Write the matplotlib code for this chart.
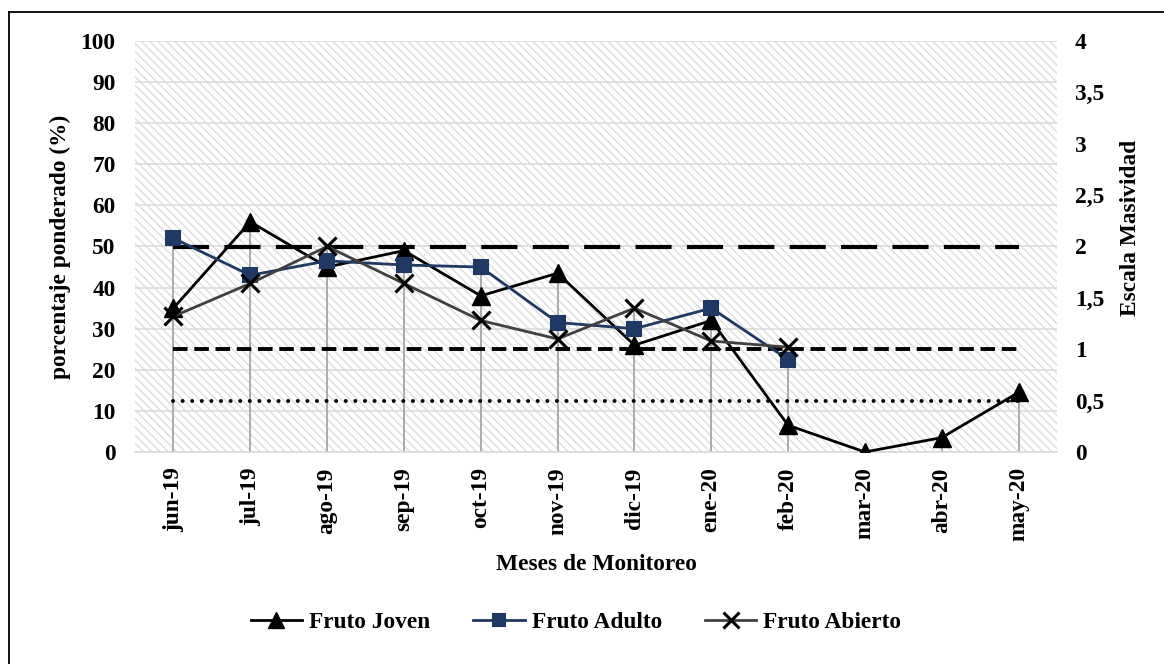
import numpy as np
import matplotlib
matplotlib.use("Agg")
import matplotlib.pyplot as plt
from matplotlib.patches import Rectangle
from matplotlib.lines import Line2D
from matplotlib.ticker import FuncFormatter, MultipleLocator
from matplotlib.transforms import blended_transform_factory

plt.rcParams['font.family'] = ['Liberation Serif', 'DejaVu Serif']
plt.rcParams['font.weight'] = 'bold'
plt.rcParams['lines.scale_dashes'] = False
plt.rcParams['hatch.linewidth'] = 1.0

# Months monitored
meses = ["jun-19", "jul-19", "ago-19", "sep-19", "oct-19", "nov-19",
         "dic-19", "ene-20", "feb-20", "mar-20", "abr-20", "may-20"]

# Weighted percentage per fruit stage (%)
fruto_joven = [35, 56, 45, 49, 38, 43.5, 26, 32, 6.5, 0, 3.5, 14.5]
fruto_adulto = [52, 43, 46.5, 45.5, 45, 31.5, 30, 35, 22.5]
fruto_abierto = [33, 41, 50, 41, 32, 27.5, 35, 27, 25.5]

# Reference levels on the massiveness scale
nivel_alto = 2
nivel_medio = 1
nivel_bajo = 0.5

FS = 16.8
fig = plt.figure(figsize=(11.64, 6.64), dpi=100)
ax = fig.add_axes([135 / 1164, 1 - 452 / 664, 922 / 1164, 411 / 664])
ax2 = ax.twinx()

x = np.arange(len(meses))

# hatched plot background
ax.patch.set_visible(False)
ax.add_patch(Rectangle((0, 0), 1, 1, transform=ax.transAxes, facecolor='white',
                       edgecolor='#dedede', linewidth=0, hatch='\\\\\\\\', zorder=0.1))

ax.set_xlim(-0.5, len(meses) - 0.5)
ax.set_ylim(0, 100)
ax2.set_ylim(0, 4)
ax.yaxis.set_major_locator(MultipleLocator(10))
ax2.yaxis.set_major_locator(MultipleLocator(0.5))
ax.set_axisbelow(True)
ax.grid(axis='y', color='#d9d9d9', linewidth=1.1, zorder=0.5)

# drop lines to the highest value of each month
n_ad = len(fruto_adulto)
maxvals = [max([fruto_joven[i]] + ([fruto_adulto[i], fruto_abierto[i]] if i < n_ad else []))
           for i in range(len(meses))]
ax.vlines(x, 0, maxvals, color='#aaaaaa', linewidth=1.4, zorder=1)

# reference levels, scaled through the right axis
tr = blended_transform_factory(ax.transData, ax2.transData)
xr = [x[0], x[-1]]
ax.plot(xr, [nivel_alto] * 2, transform=tr, color='black', linewidth=3.0,
        dashes=(26, 11), solid_capstyle='butt', dash_capstyle='butt', zorder=2)
ax.plot(xr, [nivel_medio] * 2, transform=tr, color='black', linewidth=2.8,
        dashes=(10.5, 4.8), dash_capstyle='butt', zorder=2)
ax.plot(xr, [nivel_bajo] * 2, transform=tr, color='black', linewidth=2.9,
        dashes=(0.01, 6.9), dash_capstyle='round', zorder=2)

ax.plot(x, fruto_joven, color='black', linewidth=2.0, marker='^', markersize=13,
        markerfacecolor='black', markeredgecolor='black', label='Fruto Joven', zorder=4)
ax.plot(x[:n_ad], fruto_adulto, color='#1f3864', linewidth=2.0, marker='s', markersize=10,
        markerfacecolor='#1f3864', markeredgecolor='#1f3864', markeredgewidth=1.5,
        label='Fruto Adulto', zorder=5)
ax.plot(x[:n_ad], fruto_abierto, color='#404040', linewidth=2.0, marker='x', markersize=13,
        markeredgecolor='black', markeredgewidth=2.2, label='Fruto Abierto', zorder=6)

for a in (ax, ax2):
    for s in ('left', 'right', 'top'):
        a.spines[s].set_visible(False)
ax.spines['bottom'].set_color('#d9d9d9')
ax.spines['bottom'].set_linewidth(1.2)
ax2.spines['bottom'].set_visible(False)

ax.set_xticks(x)
ax.set_xticklabels(meses, rotation=90, fontsize=FS, fontweight='bold')
ax.tick_params(axis='x', length=0, pad=11)
ax.tick_params(axis='y', length=0, pad=14, labelsize=FS)
ax2.tick_params(axis='y', length=0, pad=13, labelsize=FS)
for lbl in ax.get_yticklabels() + ax2.get_yticklabels():
    lbl.set_fontweight('bold')


def coma(v, pos):
    s = f"{v:g}"
    return s.replace('.', ',')


ax2.yaxis.set_major_formatter(FuncFormatter(coma))

fig.text(60 / 1164, 1 - 247 / 664, "porcentaje ponderado (%)", rotation=90,
         ha='center', va='center', fontsize=FS, fontweight='bold')
fig.text(1130 / 1164, 1 - 228 / 664, "Escala Masividad", rotation=90,
         ha='center', va='center', fontsize=FS, fontweight='bold')
fig.text(596 / 1164, 1 - 565 / 664, "Meses de Monitoreo",
         ha='center', va='center', fontsize=FS, fontweight='bold')

handles, labels = ax.get_legend_handles_labels()
leg = fig.legend(handles, labels, loc='center', bbox_to_anchor=(576 / 1164, 1 - 622 / 664),
                 ncol=3, frameon=False, prop={'size': FS, 'weight': 'bold'},
                 handlelength=2.2, handletextpad=0.3, columnspacing=1.85, markerscale=0.85)

# outer frame lines
fig.add_artist(Line2D([9 / 1164, 9 / 1164], [0, 1 - 12 / 664], transform=fig.transFigure,
                      color='black', linewidth=1.3))
fig.add_artist(Line2D([9 / 1164, 1], [1 - 12 / 664, 1 - 12 / 664], transform=fig.transFigure,
                      color='black', linewidth=1.3))

fig.savefig("out.png", dpi=100)
